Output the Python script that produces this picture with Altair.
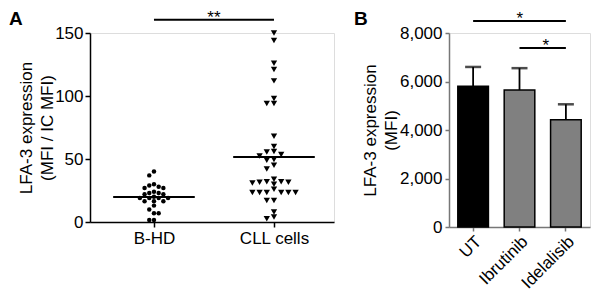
import altair as alt
import pandas as pd

# ---------------- data ----------------
groups = ["B-HD", "CLL cells"]
bhd_values = [40, 37, 29, 27, 30, 27, 28, 24, 23, 22, 22, 23, 20, 19, 19, 19, 19,
              16.5, 16.5, 16.5, 13, 10, 7, 7, 1.5, 1.5]
cll_values = [150, 144, 126, 121, 112, 98, 94, 94,
              68, 60, 56, 55.5, 53.6, 52.3, 49.6, 49, 45, 42,
              34, 32, 32, 31.5, 31.5, 30, 31,
              26, 23.5, 23.5, 23.5, 23.5, 23.5, 23.5,
              17, 17, 8, 4, 2.5]

treatments = ["UT", "Ibrutinib", "Idelalisib"]
mfi_mean = [5800, 5650, 4420]
mfi_err = [800, 900, 640]

# ---------------- panel A layout helpers ----------------
W_A, H_A = 244, 189
X_DOM = [-0.533, 1.5]
PX_X = W_A / (X_DOM[1] - X_DOM[0])
PX_Y = H_A / 150.0


def swarm(vals, step_px, min_dy):
    order = sorted(range(len(vals)), key=lambda i: -vals[i])
    placed = []
    offs = [0.0] * len(vals)
    cols = [0]
    for k in range(1, 12):
        cols += [-k, k]
    for i in order:
        ypx = vals[i] * PX_Y
        for c in cols:
            if all(abs(ypx - py) >= min_dy for (cc, py) in placed if cc == c):
                placed.append((c, ypx))
                offs[i] = c * step_px / PX_X
                break
    return offs


rows = []
for gi, (vals, shape, step, dy) in enumerate([(bhd_values, "circle", 4.7, 4.2),
                                               (cll_values, "triangle-down", 7.2, 5.0)]):
    offs = swarm(vals, step, dy)
    for v, o in zip(vals, offs):
        rows.append({"group": groups[gi], "idx": gi, "value": v, "xpos": gi + o, "shape": shape})
dfA = pd.DataFrame(rows)

FONT = "Liberation Sans"
FS = 17

xA = alt.X("xpos:Q", scale=alt.Scale(domain=X_DOM, nice=False, zero=False),
           axis=alt.Axis(values=[0, 1], title=None, grid=False,
                         labelExpr="datum.value == 0 ? 'B-HD' : 'CLL cells'",
                         labelFontSize=FS, labelColor="black", domainColor="black",
                         domainWidth=1.5, tickColor="black", tickWidth=1.5, tickSize=5,
                         labelPadding=3))
yA_scale = alt.Scale(domain=[0, 150], nice=False)
yA = alt.Y("value:Q", scale=yA_scale,
           axis=alt.Axis(values=[0, 50, 100, 150], title=["LFA-3 expression", "(MFI / IC MFI)"],
                         grid=False, labelFontSize=FS, labelColor="black", titleFontSize=FS,
                         titleFontWeight="normal", titleColor="black", titleLineHeight=21,
                         titlePadding=-2, domainColor="black", domainWidth=1.5,
                         tickColor="black", tickWidth=1.5, tickSize=5, labelPadding=2))

pts = alt.Chart(dfA).mark_point(filled=True, color="black", opacity=1).encode(
    x=xA, y=yA,
    shape=alt.Shape("shape:N", scale=alt.Scale(domain=["circle", "triangle-down"],
                                                range=["circle", "triangle-down"]), legend=None),
    size=alt.Size("shape:N", scale=alt.Scale(domain=["circle", "triangle-down"], range=[20, 40]),
                  legend=None),
)

means = alt.Chart(dfA).transform_aggregate(
    mean="mean(value)", groupby=["idx"]
).transform_calculate(
    x1="datum.idx - 0.34", x2="datum.idx + 0.34"
).mark_rule(color="black", strokeWidth=2).encode(
    x="x1:Q", x2="x2:Q", y=alt.Y("mean:Q", scale=yA_scale)
)

sigA = pd.DataFrame({"x1": [0], "x2": [1], "xm": [0.5], "y": [160.5], "label": ["**"]})
sigA_rule = alt.Chart(sigA).mark_rule(color="black", strokeWidth=1.8, clip=False).encode(
    x="x1:Q", x2="x2:Q", y=alt.Y("y:Q", scale=yA_scale))
sigA_text = alt.Chart(sigA).mark_text(font=FONT, fontSize=17, baseline="top",
                                      dy=-9.8, clip=False).encode(
    x="xm:Q", y=alt.Y("y:Q", scale=yA_scale), text="label:N")

letterA = alt.Chart(pd.DataFrame({"t": ["A"]})).mark_text(
    font=FONT, fontSize=19, fontWeight="bold", align="left", baseline="top", clip=False
).encode(text="t:N", x=alt.value(-81), y=alt.value(-23))

panelA = alt.layer(means, pts, sigA_rule, sigA_text, letterA).properties(width=W_A, height=H_A)

# ---------------- panel B ----------------
dfB = pd.DataFrame({"treatment": treatments, "mean": mfi_mean, "err": mfi_err})
dfB["top"] = dfB["mean"] + dfB["err"]

xB = alt.X("treatment:N", sort=treatments,
           scale=alt.Scale(domain=treatments, paddingInner=0.34, paddingOuter=0.19),
           axis=alt.Axis(title=None, labelAngle=-45, labelFontSize=FS, labelColor="black",
                         domainColor="#777777", domainWidth=1.5, tickColor="#777777",
                         tickWidth=1.5, tickSize=4, labelPadding=2))
yB_scale = alt.Scale(domain=[0, 8000], nice=False)
yB = alt.Y("mean:Q", scale=yB_scale,
           axis=alt.Axis(values=[0, 2000, 4000, 6000, 8000],
                         labelExpr="format(datum.value, ',.0f')",
                         title=["LFA-3 expression", "(MFI)"], grid=False,
                         labelFontSize=FS, labelColor="black", titleFontSize=FS,
                         titleFontWeight="normal", titleColor="black", titleLineHeight=21,
                         titlePadding=-1, domainColor="#777777", domainWidth=1.5,
                         tickColor="#777777", tickWidth=1.5, tickSize=4, labelPadding=3))

bars = alt.Chart(dfB).mark_bar(stroke="black", strokeWidth=1.5).encode(
    x=xB, y=yB,
    color=alt.Color("treatment:N", scale=alt.Scale(domain=treatments,
                                                    range=["#000000", "#808080", "#808080"]),
                    legend=None))
err_rule = alt.Chart(dfB).mark_rule(color="black", strokeWidth=1.8).encode(
    x=alt.X("treatment:N", sort=treatments), y=alt.Y("mean:Q", scale=yB_scale), y2="top:Q")
err_cap = alt.Chart(dfB).mark_tick(color="black", thickness=2.5, size=16).encode(
    x=alt.X("treatment:N", sort=treatments), y=alt.Y("top:Q", scale=yB_scale))

sigB = pd.DataFrame({"x1": ["UT", "Ibrutinib"], "x2": ["Idelalisib", "Idelalisib"],
                     "y": [8495, 7381], "label": ["*", "*"], "which": ["top", "low"]})
sigB_rule = alt.Chart(sigB).mark_rule(color="black", strokeWidth=1.8, clip=False).encode(
    x=alt.X("x1:N", sort=treatments), x2="x2:N", y=alt.Y("y:Q", scale=yB_scale))
sigB_top_text = alt.Chart(sigB).transform_filter("datum.which == 'top'").mark_text(
    font=FONT, fontSize=17, baseline="top", dy=-10, dx=-46, clip=False).encode(
    x=alt.X("x2:N", sort=treatments), y=alt.Y("y:Q", scale=yB_scale), text="label:N")
sigB_low_text = alt.Chart(sigB).transform_filter("datum.which == 'low'").mark_text(
    font=FONT, fontSize=17, baseline="top", dy=-10, dx=-20, clip=False).encode(
    x=alt.X("x2:N", sort=treatments), y=alt.Y("y:Q", scale=yB_scale), text="label:N")

letterB = alt.Chart(pd.DataFrame({"t": ["B"]})).mark_text(
    font=FONT, fontSize=19, fontWeight="bold", align="left", baseline="top", clip=False
).encode(text="t:N", x=alt.value(-95), y=alt.value(-23))

panelB = alt.layer(bars, err_rule, err_cap, sigB_rule, sigB_top_text, sigB_low_text,
                   letterB).properties(width=141, height=194)

chart = alt.hconcat(panelA, panelB, spacing=18).properties(
    padding={"left": 0, "top": 0, "right": 0, "bottom": 0}
).configure_view(stroke=None).configure(font=FONT)

chart.save("out.html", embed_options={"renderer": "svg", "actions": False})
